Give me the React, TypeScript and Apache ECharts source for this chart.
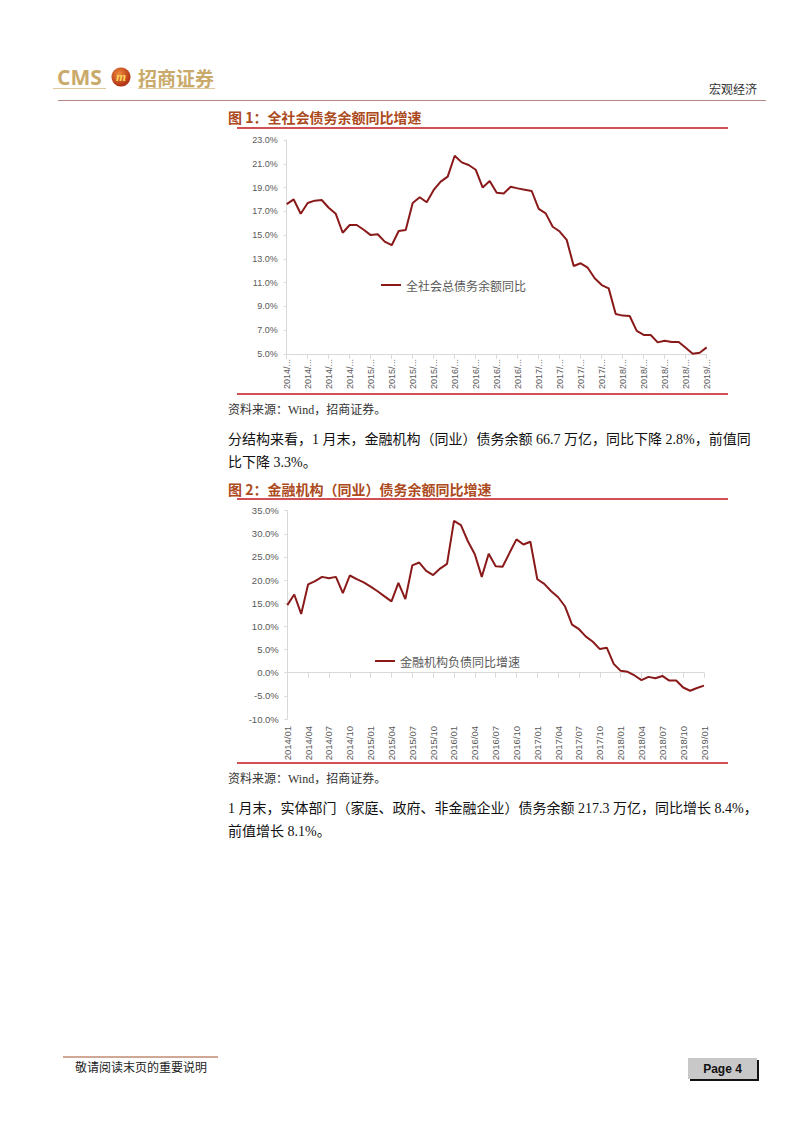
import React, { useEffect, useRef } from "react";
import * as echarts from "echarts";

const years = [2014, 2015, 2016, 2017, 2018];
const months = ["01", "02", "03", "04", "05", "06", "07", "08", "09", "10", "11", "12"];
const categories: string[] = [];
years.forEach((y) => months.forEach((m) => categories.push(`${y}/${m}`)));
categories.push("2019/01");

const totalDebtYoY = [
  17.6, 18.0, 16.8, 17.7, 17.9, 17.95, 17.3, 16.8, 15.2, 15.85, 15.85, 15.45,
  15.0, 15.07, 14.45, 14.15, 15.35, 15.43, 17.7, 18.18, 17.76, 18.8, 19.5, 19.92,
  21.68, 21.12, 20.9, 20.5, 19.0, 19.55, 18.57, 18.5, 19.07, 18.93, 18.82, 18.71,
  17.2, 16.83, 15.7, 15.3, 14.6, 12.4, 12.63, 12.26, 11.37, 10.8, 10.52, 8.37,
  8.23, 8.2, 6.94, 6.6, 6.6, 5.98, 6.12, 6.01, 6.01, 5.53, 5.03, 5.11, 5.56,
];

const finDebtYoY = [
  14.6, 16.9, 12.7, 19.1, 19.8, 20.7, 20.4, 20.7, 17.2, 21.0, 20.2, 19.5,
  18.6, 17.6, 16.5, 15.4, 19.4, 15.9, 23.2, 23.8, 22.0, 21.1, 22.5, 23.5,
  32.8, 31.9, 28.4, 25.6, 20.7, 25.7, 23.0, 22.9, 25.9, 28.8, 27.7, 28.3,
  20.2, 19.2, 17.6, 16.3, 14.3, 10.4, 9.4, 7.8, 6.7, 5.1, 5.4, 1.9,
  0.4, 0.2, -0.6, -1.6, -0.9, -1.2, -0.7, -1.7, -1.7, -3.2, -3.9, -3.3, -2.8,
];

const series1Name = "全社会总债务余额同比";
const series2Name = "金融机构负债同比增速";

const LINE = "#8a1a1a";
const AXIS = "#d9d9d9";
const LABEL = "#595959";
const RED = "#c0161c";
const TITLE = "#ac4a20";
const GOLD = "#c9aa6a";
const SERIF = "'Liberation Serif', 'Noto Sans CJK SC', serif";
const CJK = "'Noto Sans CJK SC', sans-serif";

function txt(text: string, x: number, y: number, font: string, fill: string, align = "left") {
  return {
    type: "text",
    silent: true,
    style: { text, x, y, font, fill, textAlign: align, align, textVerticalAlign: "middle", verticalAlign: "middle" },
  };
}

function ln(x1: number, y1: number, x2: number, y2: number, stroke: string, lineWidth: number) {
  return { type: "line", silent: true, shape: { x1, y1, x2, y2 }, style: { stroke, lineWidth } };
}

export default function App() {
  const ref = useRef<HTMLDivElement>(null);
  useEffect(() => {
    if (!ref.current) return;
    const chart = echarts.init(ref.current, undefined, { renderer: "svg" });
    const axisLabelFont = "'Liberation Sans', Arial, sans-serif";
    const legendCommon = {
      padding: 0,
      icon: "rect",
      itemWidth: 20,
      itemHeight: 2,
      itemStyle: { color: LINE },
      textStyle: { fontSize: 12, color: LABEL, fontFamily: CJK, padding: [0, 0, 0, 0] },
    };
    chart.setOption({
      animation: false,
      backgroundColor: "#ffffff",
      grid: [
        { left: 286.7, top: 140, width: 420, height: 214 },
        { left: 287.3, top: 510.7, width: 416.7, height: 208.3 },
      ],
      legend: [
        { ...legendCommon, data: [series1Name], left: 381, top: 279 },
        { ...legendCommon, data: [series2Name], left: 375, top: 655 },
      ],
      xAxis: [
        {
          gridIndex: 0,
          type: "category",
          boundaryGap: false,
          data: categories,
          axisLine: { lineStyle: { color: AXIS, width: 1 } },
          axisTick: { interval: 2, length: 5, lineStyle: { color: AXIS } },
          axisLabel: {
            interval: 2,
            rotate: 90,
            margin: 5,
            fontSize: 9,
            color: LABEL,
            fontFamily: axisLabelFont,
            formatter: (v: string) => v.slice(0, 4) + "/...",
          },
          splitLine: { show: false },
        },
        {
          gridIndex: 1,
          type: "category",
          boundaryGap: false,
          position: "bottom",
          data: categories,
          axisLine: { show: false, onZero: false },
          axisTick: { show: false },
          axisLabel: {
            interval: 2,
            rotate: 90,
            margin: 7,
            fontSize: 9.5,
            color: LABEL,
            fontFamily: axisLabelFont,
          },
          splitLine: { show: false },
        },
        {
          gridIndex: 1,
          type: "category",
          boundaryGap: false,
          position: "top",
          data: categories,
          axisLine: { show: true, onZero: true, lineStyle: { color: AXIS, width: 1 } },
          axisTick: { show: true, inside: true, interval: 2, length: 5, lineStyle: { color: AXIS } },
          axisLabel: { show: false },
          splitLine: { show: false },
        },
      ],
      yAxis: [
        {
          gridIndex: 0,
          type: "value",
          min: 5,
          max: 23,
          interval: 2,
          axisLine: { show: true, lineStyle: { color: AXIS } },
          axisTick: { show: true, length: 3, lineStyle: { color: AXIS } },
          axisLabel: {
            margin: 9,
            fontSize: 9,
            color: LABEL,
            fontFamily: axisLabelFont,
            formatter: (v: number) => v.toFixed(1) + "%",
          },
          splitLine: { show: false },
        },
        {
          gridIndex: 1,
          type: "value",
          min: -10,
          max: 35,
          interval: 5,
          axisLine: { show: true, lineStyle: { color: AXIS } },
          axisTick: { show: true, length: 3, lineStyle: { color: AXIS } },
          axisLabel: {
            margin: 8.5,
            fontSize: 9.5,
            color: LABEL,
            fontFamily: axisLabelFont,
            formatter: (v: number) => v.toFixed(1) + "%",
          },
          splitLine: { show: false },
        },
      ],
      series: [
        {
          name: series1Name,
          type: "line",
          xAxisIndex: 0,
          yAxisIndex: 0,
          data: totalDebtYoY,
          symbol: "none",
          color: LINE,
          lineStyle: { color: LINE, width: 2 },
        },
        {
          name: series2Name,
          type: "line",
          xAxisIndex: 1,
          yAxisIndex: 1,
          data: finDebtYoY,
          symbol: "none",
          color: LINE,
          lineStyle: { color: LINE, width: 2 },
        },
      ],
      graphic: [
        // header logo
        txt("CMS", 57, 77, "bold 21px 'Open Sans', 'Liberation Sans', sans-serif", GOLD),
        ln(53, 88.5, 106, 88.5, "#dcc89a", 1),
        {
          type: "circle",
          silent: true,
          shape: { cx: 121, cy: 77, r: 9.5 },
          style: {
            fill: {
              type: "radial",
              x: 0.4,
              y: 0.35,
              r: 0.75,
              colorStops: [
                { offset: 0, color: "#f08a3a" },
                { offset: 1, color: "#a3220e" },
              ],
            },
          },
        },
        txt("m", 121, 76.5, "italic bold 13px 'Liberation Serif', serif", "#ffd35a", "center"),
        txt("招商证券", 138, 77, "bold 19px 'Noto Sans CJK SC', sans-serif", GOLD),
        ln(138, 88.5, 215, 88.5, "#dcc89a", 1),
        txt("宏观经济", 757, 88, "12px " + CJK, "#333333", "right"),
        ln(58, 100.5, 766, 100.5, "#b58a7e", 1),
        // figure 1
        txt("图 1：全社会债务余额同比增速", 228, 117, "bold 14px " + CJK, TITLE),
        ln(237, 128, 728, 128, RED, 1.5),
        ln(237, 394, 728, 394, RED, 1.5),
        txt("资料来源：Wind，招商证券。", 228, 410, "12px " + SERIF, "#333333"),
        txt("分结构来看，1 月末，金融机构（同业）债务余额 66.7 万亿，同比下降 2.8%，前值同", 228, 439, "14px " + SERIF, "#111111"),
        txt("比下降 3.3%。", 228, 462, "14px " + SERIF, "#111111"),
        // figure 2
        txt("图 2：金融机构（同业）债务余额同比增速", 228, 489, "bold 14px " + CJK, TITLE),
        ln(237, 499, 728, 499, RED, 1.5),
        ln(237, 763, 728, 763, RED, 1.5),
        txt("资料来源：Wind，招商证券。", 228, 779, "12px " + SERIF, "#333333"),
        txt("1 月末，实体部门（家庭、政府、非金融企业）债务余额 217.3 万亿，同比增长 8.4%，", 228, 808, "14px " + SERIF, "#111111"),
        txt("前值增长 8.1%。", 228, 831, "14px " + SERIF, "#111111"),
        // footer
        ln(63, 1057, 218, 1057, "#a0522d", 1),
        txt("敬请阅读末页的重要说明", 75, 1068, "12px " + SERIF, "#222222"),
        { type: "rect", silent: true, shape: { x: 690, y: 1060, width: 69, height: 21 }, style: { fill: "#111111" } },
        { type: "rect", silent: true, shape: { x: 688, y: 1058, width: 69, height: 21 }, style: { fill: "#c8c8c8" } },
        txt("Page 4", 722.5, 1068.5, "bold 12px 'Liberation Sans', Arial, sans-serif", "#111111", "center"),
      ],
    });
    return () => chart.dispose();
  }, []);
  return (
    <div
      ref={ref}
      style={{ position: "absolute", left: 0, top: 0, width: 802, height: 1133, background: "#ffffff" }}
    />
  );
}
